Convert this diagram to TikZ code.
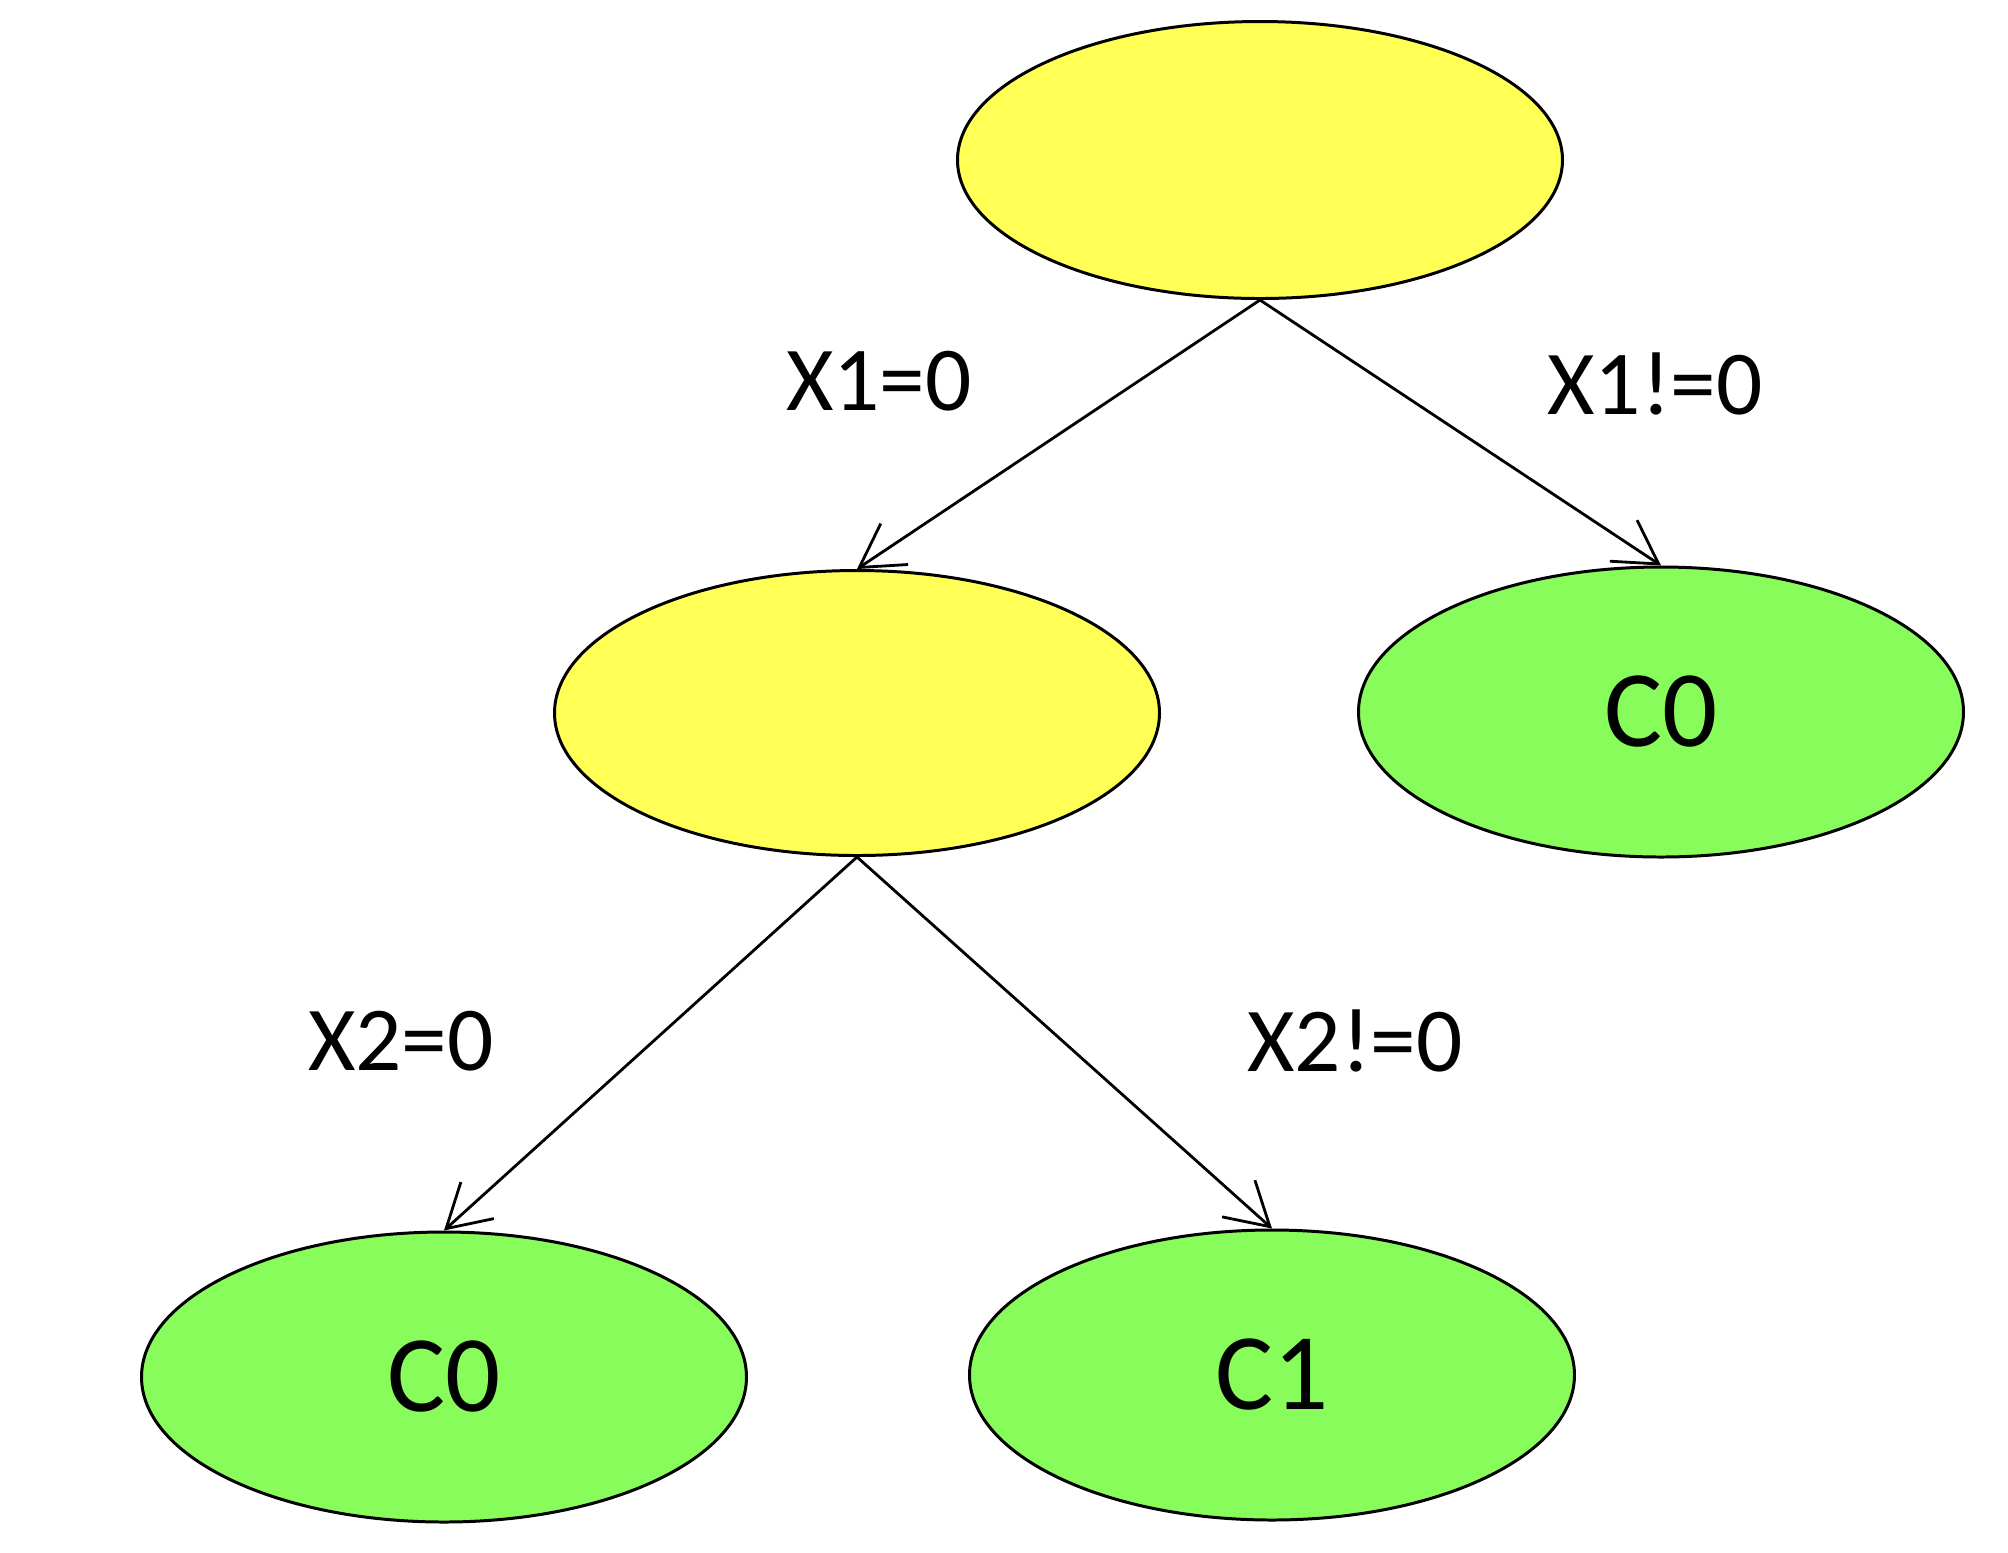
\documentclass[tikz,border=0pt]{standalone}
\usepackage{fontspec}
\setmainfont{Carlito}
\usetikzlibrary{shapes.geometric,arrows.meta}
\definecolor{testyellow}{RGB}{255,255,85}
\definecolor{leafgreen}{RGB}{136,252,90}
\begin{document}
\begin{tikzpicture}[x=1cm,y=1cm,
  test/.style={ellipse,draw=black,line width=0.85pt,fill=testyellow,inner sep=0pt,minimum width=6.05cm,minimum height=2.85cm},
  leaf/.style={ellipse,draw=black,line width=0.85pt,fill=leafgreen,inner sep=0pt,minimum width=6.05cm,minimum height=2.9cm,font=\fontsize{31}{36}\selectfont},
  branch/.style={draw=black,line width=0.8pt,-{Straight Barb[length=12pt,width=14pt,line width=0.8pt]}},
  cond/.style={font=\fontsize{26}{30}\selectfont}]
\useasboundingbox (0,0) rectangle (20.08,-15.52);
% internal test nodes
\node[test,minimum height=2.77cm] (root) at (12.60,-1.60) {};
\node[test] (mid) at (8.57,-7.13) {};
% leaves
\node[leaf] (r0) at (16.61,-7.12) {C0};
\node[leaf] (l0) at (4.44,-13.77) {C0};
\node[leaf] (l1) at (12.72,-13.75) {C1};
% branches
\draw[branch] (root.south) -- (mid.north);
\draw[branch] (root.south) -- (r0.north);
\draw[branch] (mid.south) -- (l0.north);
\draw[branch] (mid.south) -- (l1.north);
% branch conditions
\node[cond] (c1) at (8.79,-3.81) {X1=0};
\node[cond] (c2) at (16.55,-3.84) {X1!=0};
\node[cond] (c3) at (4.01,-10.41) {X2=0};
\node[cond] (c4) at (13.55,-10.41) {X2!=0};
\end{tikzpicture}
\end{document}
